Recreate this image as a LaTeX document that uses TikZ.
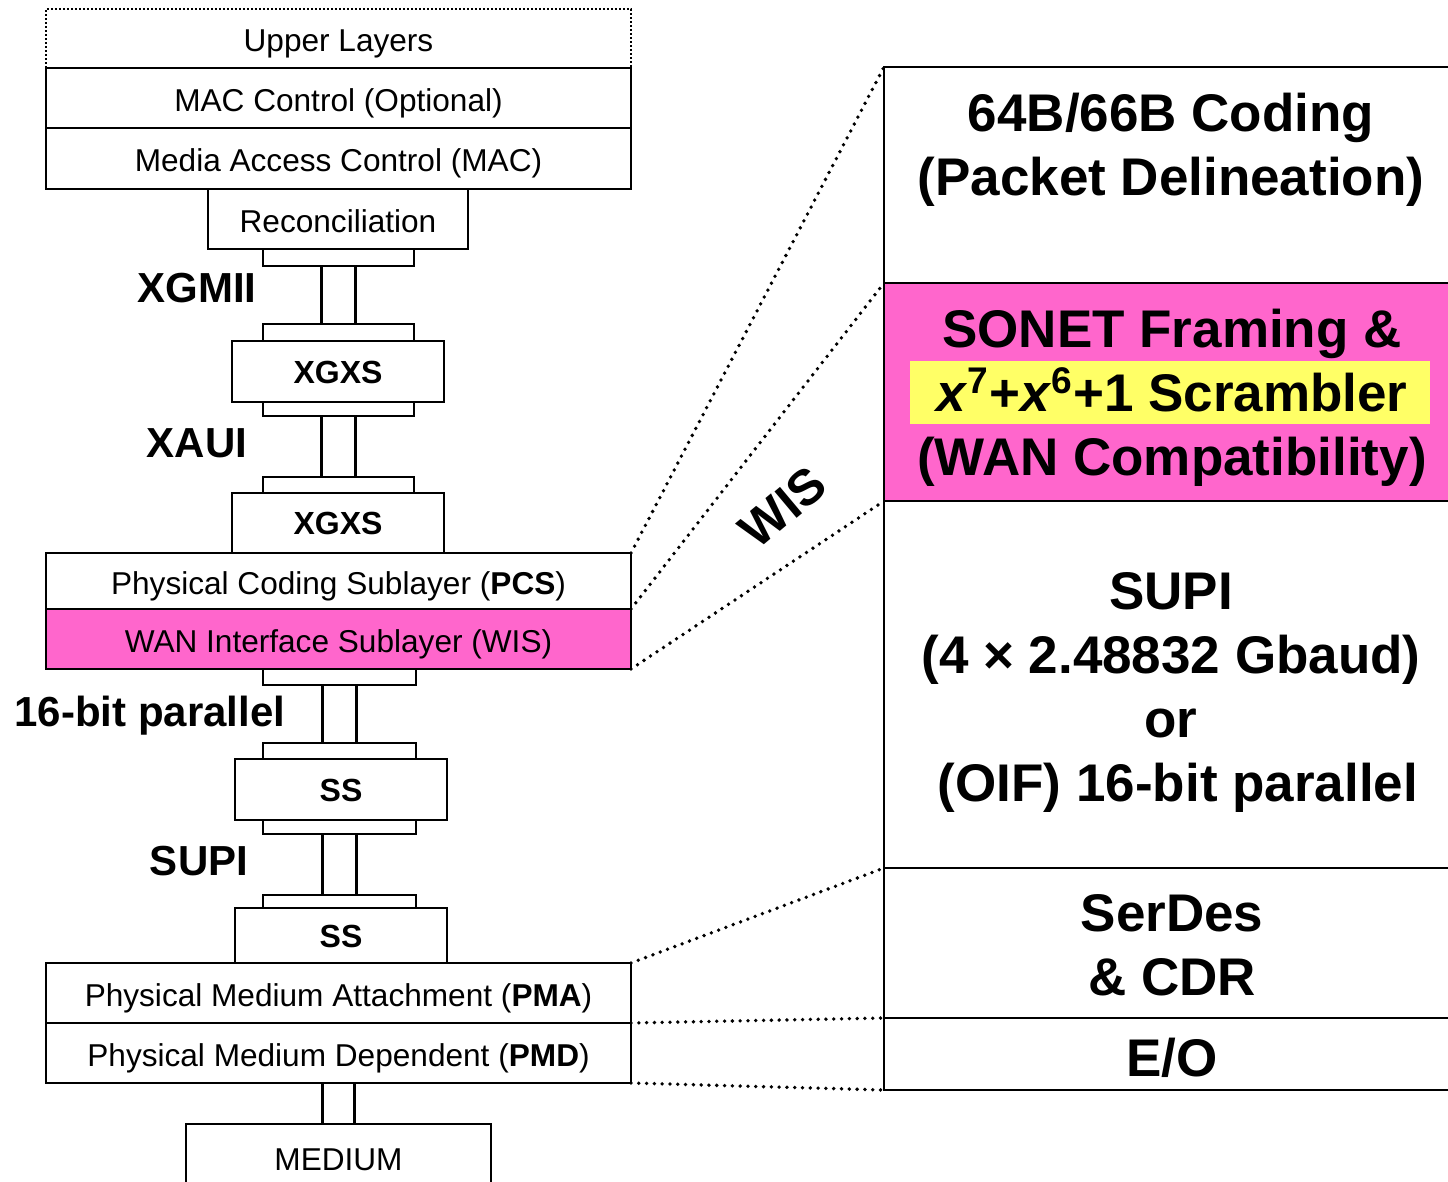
\documentclass[tikz,border=0pt]{standalone}
\usepackage{fontspec}
\setmainfont{Liberation Sans}
\definecolor{wismagenta}{HTML}{FF66CC}
\definecolor{scrambleryellow}{HTML}{FFFF66}

% box from pixel corners (x1,y1)-(x2,y2): name, x1, y1, x2, y2, style
\newcommand\pbox[6]{\node[#6, minimum width={(#4-#2)*0.5pt}, minimum height={(#5-#3)*0.5pt}] (#1) at ({(#2+#4)/2},{(#3+#5)/2})}

\tikzset{
  layer/.style={draw, line width=1.2pt, inner sep=0pt, outer sep=0pt, text height=13.2pt, text depth=0pt,
    font=\fontsize{15.8}{19}\selectfont},
  plate/.style={draw, line width=1.2pt, fill=white, inner sep=0pt, outer sep=0pt},
  sublayer/.style={layer, text height=11.8pt, font=\fontsize{16}{19}\selectfont\bfseries},
  iflabel/.style={inner sep=0pt, font=\fontsize{21}{25}\selectfont\bfseries},
  panel/.style={draw, line width=1.3pt, inner sep=0pt, outer sep=0pt},
  paneltext/.style={inner sep=0pt, align=center, font=\fontsize{26.5}{32}\selectfont\bfseries},
  zoomline/.style={line width=1.9pt, line cap=round, dash pattern=on 0pt off 3.9pt},
  finedots/.style={line width=0.8pt, dash pattern=on 0.8pt off 1.2pt},
  link/.style={line width=1.2pt},
}

\begin{document}
\begin{tikzpicture}[x=0.5pt,y=-0.5pt]
\useasboundingbox (0,0) rectangle (1448,1182);
\clip (0,0) rectangle (1448,1182);

% ---- protocol stack ----
\pbox{upper}{46}{9}{631}{68}{layer, draw=none} {Upper Layers};
\draw[finedots] (upper.south west) -- (upper.north west) -- (upper.north east) -- (upper.south east);
\pbox{macctl}{46}{68}{631}{128}{layer} {MAC Control (Optional)};
\pbox{mac}{46}{128}{631}{189}{layer} {Media Access Control (MAC)};
\pbox{recon}{208}{189}{468}{249}{layer} {Reconciliation};

\pbox{pa}{263}{249}{414}{266}{plate} {};
\pbox{pb}{263}{324}{414}{341}{plate} {};
\pbox{xgxsA}{232}{341}{444}{402}{sublayer} {XGXS};
\pbox{pc}{263}{402}{414}{416}{plate} {};
\pbox{pd}{263}{477}{414}{493}{plate} {};
\pbox{xgxsB}{232}{493}{444}{553}{sublayer} {XGXS};

\pbox{pcs}{46}{553}{631}{609}{layer} {Physical Coding Sublayer (\textbf{PCS})};
\pbox{wis}{46}{609}{631}{669}{layer, fill=wismagenta} {WAN Interface Sublayer (WIS)};

\pbox{pe}{263}{669}{416}{685}{plate} {};
\pbox{pf}{263}{743}{416}{759}{plate} {};
\pbox{ssA}{235}{759}{447}{820}{sublayer} {SS};
\pbox{pg}{263}{820}{416}{834}{plate} {};
\pbox{ph}{263}{895}{416}{908}{plate} {};
\pbox{ssB}{235}{908}{447}{963}{sublayer} {SS};

\pbox{pma}{46}{963}{631}{1023}{layer} {Physical Medium Attachment (\textbf{PMA})};
\pbox{pmd}{46}{1023}{631}{1083}{layer} {Physical Medium Dependent (\textbf{PMD})};
\pbox{medium}{186}{1124}{491}{1190}{layer} {MEDIUM};

% ---- parallel-wire interfaces ----
\foreach \s in {-8.5pt, 8.5pt} {
  \draw[link] ([xshift=\s]pa.south) -- ([xshift=\s]pb.north);
  \draw[link] ([xshift=\s]pc.south) -- ([xshift=\s]pd.north);
  \draw[link] ([xshift=\s]pe.south) -- ([xshift=\s]pf.north);
  \draw[link] ([xshift=\s]pg.south) -- ([xshift=\s]ph.north);
}
\foreach \s in {-8pt, 8pt}
  \draw[link] ([xshift=\s]pmd.south) -- ([xshift=\s]medium.north);

\node[iflabel] (lxgmii) at (197,288) {XGMII};
\node[iflabel] (lxaui)  at (197,443) {XAUI};
\node[iflabel] (lpar)   at (150,716) {16-bit parallel};
\node[iflabel] (lsupi)  at (199,861) {SUPI};

% ---- expanded detail panel ----
\pbox{coding}{884}{67}{1452}{283}{panel} {};
\pbox{sonet}{884}{283}{1452}{501}{panel, fill=wismagenta} {};
\pbox{supi}{884}{501}{1452}{868}{panel} {};
\pbox{serdes}{884}{868}{1452}{1018}{panel} {};
\pbox{eo}{884}{1018}{1452}{1090}{panel} {};
\pbox{band}{910}{361}{1430}{424}{inner sep=0pt, outer sep=0pt, fill=scrambleryellow} {};

\node[paneltext] (tcoding) at (1171,150) {64B/66B Coding\\(Packet Delineation)};
\node[paneltext] (tsonet) at (1172,398) {SONET Framing \&\\\textit{x}\textsuperscript{7}+\textit{x}\textsuperscript{6}+1 Scrambler\\(WAN Compatibility)};
\node[paneltext] (tsupi) at (1171,692) {SUPI\\(4 × 2.48832 Gbaud)\\or\\\hspace*{7pt}(OIF) 16-bit parallel};
\node[paneltext] (tserdes) at (1172,945) {SerDes\\\& CDR};
\node[paneltext] (teo) at (1172,1058) {E/O};

% ---- zoom guides ----
\draw[zoomline] (pcs.north east) -- (coding.north west);
\draw[zoomline] (pcs.south east) -- (sonet.north west);
\draw[zoomline] (wis.south east) -- (sonet.south west);
\draw[zoomline] (pma.north east) -- (serdes.north west);
\draw[zoomline] (pmd.north east) -- (eo.north west);
\draw[zoomline] (pmd.south east) -- (eo.south west);

\node[iflabel, font=\fontsize{25}{30}\selectfont\bfseries, rotate=40] (lwis) at (783,507) {WIS};
\end{tikzpicture}
\end{document}
